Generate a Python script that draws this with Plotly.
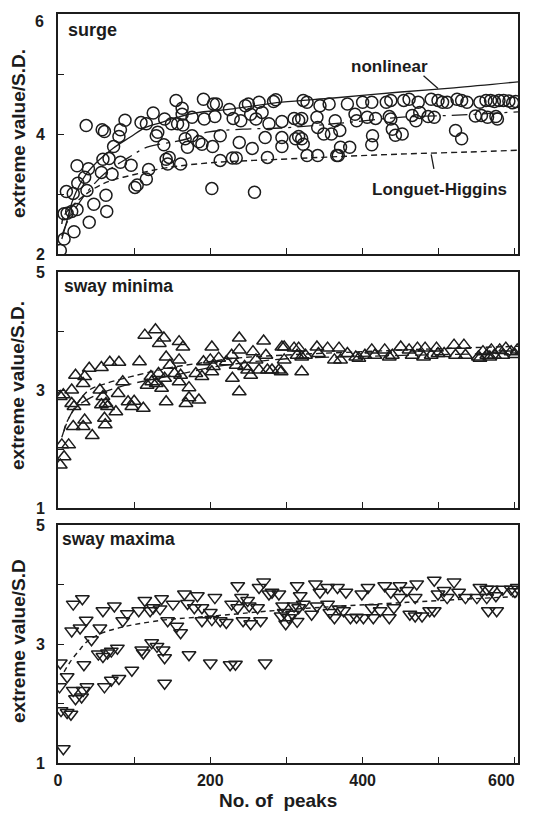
import plotly.graph_objects as go

# ---------------- data ----------------
surge_x = [3, 8, 21, 41, 64, 47, 63, 12, 18, 25, 8, 11, 20, 38, 26, 35, 25, 40, 37, 58,
           61, 57, 59, 67, 71, 73, 80, 82, 88, 82, 96, 101, 104, 116, 119, 109, 116, 125, 129, 131,
           139, 140, 142, 144, 146, 149, 155, 163, 163, 157, 164, 161, 167, 170, 176, 176, 185, 189, 191, 192,
           203, 204, 208, 206, 202, 213, 213, 225, 230, 229, 234, 238, 240, 246, 250, 253, 255, 258, 260, 264,
           272, 275, 277, 283, 286, 294, 294, 294, 268,
           310, 316, 320, 312, 316, 320, 322, 322, 327, 327, 341, 340, 341, 344, 356, 349, 359, 364, 370, 366,
           368, 371, 380, 383, 390, 392, 400, 412, 406, 417, 413, 412, 431, 437, 435, 437, 439, 443, 452, 454,
           461, 465, 470, 473, 475, 486, 494, 490, 499, 505, 511, 522, 530, 524, 530, 537, 554, 562, 568, 573,
           579, 585, 556, 564, 575, 577, 592, 597, 601, 548]
surge_y = [2.06, 2.25, 2.37, 2.53, 2.71, 2.83, 2.98, 2.68, 2.71, 2.74, 2.67, 3.04, 3.01, 3.06, 3.18, 3.28, 3.47, 3.42, 4.14, 4.07,
           4.04, 3.36, 3.58, 3.59, 3.33, 3.79, 3.96, 4.07, 4.23, 3.53, 3.48, 3.11, 3.15, 3.25, 3.41, 4.19, 4.17, 4.35, 3.97, 4.03,
           3.82, 4.25, 3.58, 3.50, 3.61, 4.17, 4.56, 4.43, 4.33, 4.17, 4.15, 3.50, 3.92, 3.78, 4.28, 3.97, 3.87, 3.83, 4.58, 4.25,
           3.79, 4.50, 4.50, 4.29, 3.09, 3.97, 3.56, 4.41, 4.26, 3.60, 3.60, 3.86, 4.22, 4.47, 4.50, 4.33, 3.76, 3.03, 4.25, 4.53,
           3.94, 3.61, 4.17, 4.54, 4.57, 4.21, 3.94, 3.79, 4.36,
           4.26, 4.23, 4.26, 3.92, 3.96, 3.92, 3.83, 4.56, 4.53, 3.64, 3.64, 4.28, 4.11, 4.47, 4.50, 4.00, 4.00, 4.22, 4.06, 3.64,
           3.64, 3.78, 4.50, 3.78, 4.33, 4.22, 4.53, 4.53, 4.28, 4.26, 3.97, 3.82, 4.53, 4.56, 4.29, 4.25, 4.08, 3.98, 4.00, 4.56,
           4.58, 4.31, 4.22, 4.53, 4.36, 4.29, 4.28, 4.58, 4.56, 4.53, 4.53, 4.06, 3.92, 4.58, 4.56, 4.53, 4.53, 4.56, 4.56, 4.54,
           4.56, 4.56, 4.31, 4.28, 4.29, 4.25, 4.55, 4.52, 4.54, 4.30]

nonlinear_x = [5, 10, 20, 37, 55, 72, 95, 115, 135, 157, 180, 230, 294, 362, 450, 520, 604]
nonlinear_y = [2.25, 2.47, 2.92, 3.33, 3.58, 3.76, 3.95, 4.11, 4.19, 4.28, 4.35, 4.42, 4.53, 4.60, 4.70, 4.77, 4.87]
middle_x = [5, 12, 25, 38, 63, 93, 117, 164, 196, 243, 294, 370, 452, 516, 604]
middle_y = [2.30, 2.53, 2.80, 3.03, 3.36, 3.61, 3.78, 3.90, 4.03, 4.08, 4.10, 4.18, 4.28, 4.31, 4.37]
lh_x = [5, 8, 29, 59, 102, 144, 200, 294, 380, 460, 540, 604]
lh_y = [2.50, 2.64, 2.92, 3.17, 3.33, 3.44, 3.52, 3.58, 3.63, 3.67, 3.70, 3.73]

swaymin_x = [3, 8, 5, 14, 3, 7, 18, 23, 35, 41, 57, 68, 80, 107, 18, 21, 33, 33, 55, 57,
             59, 63, 65, 76, 35, 33, 20, 45, 61, 62, 79, 85, 92, 100, 97, 112, 114, 128, 133, 139,
             132, 117, 122, 123, 129, 136, 140, 142, 142, 147, 159, 164, 159, 153, 159, 161, 172, 172, 168, 185,
             181, 189, 191, 202, 200, 204, 202, 211, 221, 228, 229, 238, 238, 238, 234, 245, 249, 253, 256, 260,
             264, 270, 273, 275, 281, 290, 294,
             297, 293, 320, 297, 310, 316, 314, 320, 325, 340, 342, 354, 363, 369, 371, 380, 391, 395, 403, 412,
             416, 429, 435, 439, 450, 461, 465, 472, 482, 480, 490, 497, 499, 507, 520, 522, 533, 535, 552, 558,
             563, 569, 573, 580, 584, 588, 567, 554, 595, 600, 603]
swaymin_y = [1.73, 1.87, 2.07, 2.07, 2.89, 2.92, 3.00, 3.25, 3.23, 3.37, 3.38, 3.47, 3.47, 3.48, 2.77, 2.72, 2.80, 3.11, 3.00, 2.75,
             2.89, 2.77, 2.72, 2.63, 2.49, 2.38, 2.38, 2.23, 2.52, 2.41, 2.94, 3.14, 2.80, 2.81, 2.72, 2.69, 3.93, 4.02, 3.79, 3.88,
             3.28, 3.08, 3.23, 3.14, 3.11, 3.03, 3.20, 2.80, 3.56, 3.42, 3.82, 3.73, 3.51, 3.28, 3.14, 3.25, 3.04, 2.87, 2.77, 2.83,
             3.28, 3.23, 3.48, 3.73, 3.51, 3.40, 3.31, 3.54, 3.48, 3.59, 3.20, 3.88, 3.68, 2.97, 3.42, 3.40, 3.34, 3.25, 3.65, 3.51,
             3.34, 3.83, 3.59, 3.34, 3.34, 3.34, 3.73,
             3.73, 3.31, 3.31, 3.51, 3.71, 3.71, 3.59, 3.56, 3.59, 3.73, 3.62, 3.71, 3.51, 3.71, 3.51, 3.62, 3.56, 3.54, 3.59, 3.68,
             3.59, 3.68, 3.56, 3.59, 3.73, 3.68, 3.59, 3.71, 3.71, 3.56, 3.59, 3.71, 3.62, 3.62, 3.76, 3.59, 3.76, 3.59, 3.56, 3.65,
             3.59, 3.68, 3.59, 3.68, 3.59, 3.71, 3.56, 3.54, 3.65, 3.60, 3.68]
min_dash_x = [8, 10, 38, 63, 97, 144, 183, 234, 294, 400, 500, 604]
min_dash_y = [2.30, 2.41, 2.97, 3.11, 3.23, 3.37, 3.45, 3.54, 3.59, 3.65, 3.70, 3.74]
min_long_x = [5, 20, 40, 80, 120, 160, 200, 250, 300, 400, 500, 604]
min_long_y = [2.20, 2.65, 2.85, 3.05, 3.17, 3.27, 3.38, 3.47, 3.53, 3.57, 3.60, 3.62]

swaymax_x = [7, 4, 12, 17, 2, 12, 20, 23, 31, 38, 33, 3, 34, 20, 32, 18, 29, 37, 55, 44,
             53, 59, 65, 70, 78, 61, 70, 80, 97, 59, 74, 85, 91, 106, 114, 121, 125, 136, 134, 110,
             112, 123, 130, 138, 140, 140, 144, 151, 156, 161, 166, 170, 183, 179, 189, 189, 172, 200, 200, 202,
             206, 213, 221, 228, 226, 233, 236, 236, 241, 243, 249, 251, 253, 262, 264, 266, 270, 277, 281, 290,
             293, 272,
             295, 297, 299, 303, 314, 318, 322, 310, 316, 308, 314, 333, 338, 344, 354, 367, 378, 340, 354, 357,
             363, 369, 375, 384, 392, 399, 407, 412, 401, 414, 423, 429, 437, 435, 441, 449, 449, 458, 462, 469,
             471, 469, 478, 488, 494, 494, 499, 507, 511, 520, 526, 535, 550, 554, 563, 569, 575, 584, 565, 576,
             563, 595, 600, 603]
swaymax_y = [1.24, 1.88, 1.85, 1.82, 2.28, 2.45, 2.22, 2.08, 2.11, 2.28, 2.22, 2.68, 2.65, 3.67, 3.76, 3.22, 3.27, 3.40, 3.27, 3.07,
             2.83, 2.79, 2.85, 2.88, 2.93, 2.28, 2.39, 2.42, 2.56, 3.56, 3.64, 3.39, 3.51, 3.56, 3.73, 3.56, 3.61, 3.76, 3.59, 2.90,
             2.85, 3.02, 2.96, 2.90, 2.77, 2.34, 3.39, 3.67, 3.30, 3.19, 3.84, 3.68, 3.81, 3.61, 3.61, 3.39, 2.82, 2.68, 3.53, 3.41,
             3.78, 3.39, 3.36, 3.67, 2.65, 2.66, 3.98, 3.61, 3.78, 3.39, 3.73, 3.64, 3.34, 3.61, 3.95, 3.39, 4.04, 3.84, 3.87, 3.84,
             3.47, 2.68,
             3.64, 3.53, 3.34, 3.44, 3.98, 3.81, 3.67, 3.64, 3.61, 3.50, 3.38, 3.50, 4.01, 3.87, 3.95, 3.95, 3.87, 3.64, 3.67, 3.53,
             3.44, 3.59, 3.56, 3.44, 3.45, 3.84, 3.95, 3.61, 3.44, 3.44, 3.56, 3.98, 3.87, 3.44, 3.61, 3.98, 3.78, 3.90, 3.50, 3.78,
             4.01, 3.47, 3.47, 3.56, 4.07, 3.56, 3.84, 3.90, 3.78, 4.04, 3.87, 3.78, 3.78, 3.95, 3.92, 3.92, 3.81, 3.92, 3.56, 3.56,
             3.78, 3.92, 3.88, 3.95]
max_dash_x = [8, 16, 27, 40, 59, 80, 106, 144, 183, 230, 273, 350, 430, 500, 604]
max_dash_y = [2.53, 2.70, 2.88, 3.06, 3.19, 3.27, 3.34, 3.41, 3.45, 3.50, 3.55, 3.62, 3.68, 3.73, 3.80]

x_ticks = [0, 100, 200, 300, 400, 500, 600]
x_ticktext = ["0", "", "200", "", "400", "", ""]   # "600" drawn separately, tucked inside like the reference
y1_ticks = [2, 3, 4, 5, 6]
y1_ticktext = ["2", "", "4", "", ""]               # "6" drawn separately, just below the top edge
y23_ticks = [1, 2, 3, 4, 5]
y23_ticktext = ["1", "", "3", "", "5"]

# ---------------- figure ----------------
INK = "#1c1c1c"
FONT = "Liberation Sans, Arial, sans-serif"
OFF = 8                      # page body margin of the html page
PAGE_W, PAGE_H = 535, 814
W, H = PAGE_W - OFF, PAGE_H - OFF
# plot area in page pixels: x 58..518, y 14..763
ML, MR, MT, MB = 58 - OFF, PAGE_W - 518, 14 - OFF, PAGE_H - 763
PW, PH = W - ML - MR, H - MT - MB


def py2paper(py):            # page pixel y -> paper fraction
    return (PAGE_H - MB - py) / PH


def px2paper(px):            # page pixel x -> paper fraction
    return (px - 58) / PW


fig = go.Figure()

mk = dict(color=INK, line=dict(color=INK, width=1.5))

fig.add_trace(go.Scatter(x=surge_x, y=surge_y, mode="markers", xaxis="x", yaxis="y",
                         marker=dict(symbol="circle-open", size=12, **mk), showlegend=False))
fig.add_trace(go.Scatter(x=nonlinear_x, y=nonlinear_y, mode="lines", xaxis="x", yaxis="y",
                         line=dict(color=INK, width=1.3, shape="spline"), showlegend=False))
fig.add_trace(go.Scatter(x=middle_x, y=middle_y, mode="lines", xaxis="x", yaxis="y",
                         line=dict(color=INK, width=1.3, shape="spline", dash="16px,6px,3px,6px"), showlegend=False))
fig.add_trace(go.Scatter(x=lh_x, y=lh_y, mode="lines", xaxis="x", yaxis="y",
                         line=dict(color=INK, width=1.4, shape="spline", dash="6px,4px"), showlegend=False))

fig.add_trace(go.Scatter(x=swaymin_x, y=swaymin_y, mode="markers", xaxis="x2", yaxis="y2",
                         marker=dict(symbol="triangle-up-open", size=12, **mk), showlegend=False))
fig.add_trace(go.Scatter(x=min_dash_x, y=min_dash_y, mode="lines", xaxis="x2", yaxis="y2",
                         line=dict(color=INK, width=1.4, shape="spline", dash="6px,4px"), showlegend=False))
fig.add_trace(go.Scatter(x=min_long_x, y=min_long_y, mode="lines", xaxis="x2", yaxis="y2",
                         line=dict(color=INK, width=1.3, shape="spline", dash="14px,6px"), showlegend=False))

fig.add_trace(go.Scatter(x=swaymax_x, y=swaymax_y, mode="markers", xaxis="x3", yaxis="y3",
                         marker=dict(symbol="triangle-down-open", size=12, **mk), showlegend=False))
fig.add_trace(go.Scatter(x=max_dash_x, y=max_dash_y, mode="lines", xaxis="x3", yaxis="y3",
                         line=dict(color=INK, width=1.4, shape="spline", dash="5px,4px"), showlegend=False))

tickfont = dict(family=FONT, size=16, color=INK, weight="bold")
common_x = dict(range=[0, 604], tickmode="array", tickvals=x_ticks, ticks="inside", ticklen=6,
                tickwidth=1.3, tickcolor=INK, showline=True, linecolor=INK, linewidth=1.6, mirror=True,
                showgrid=False, zeroline=False, tickfont=tickfont, ticklabelstandoff=2, automargin=False)
common_y = dict(tickmode="array", ticks="inside", ticklen=6, tickwidth=1.3, tickcolor=INK,
                showline=True, linecolor=INK, linewidth=1.6, mirror=True, showgrid=False,
                zeroline=False, tickfont=tickfont, ticklabelstandoff=8, automargin=False)

d1 = [py2paper(254), 1.0]
d2 = [py2paper(508), py2paper(272)]
d3 = [0.0, py2paper(525)]

fig.update_layout(
    template="none",
    width=W, height=H, autosize=False,
    margin=dict(l=ML, r=MR, t=MT, b=MB, autoexpand=False),
    paper_bgcolor="white", plot_bgcolor="white",
    font=dict(family=FONT, color=INK),
    xaxis=dict(domain=[0, 1], anchor="y", showticklabels=False, **common_x),
    xaxis2=dict(domain=[0, 1], anchor="y2", showticklabels=False, **common_x),
    xaxis3=dict(domain=[0, 1], anchor="y3", ticktext=x_ticktext, **common_x),
    yaxis=dict(domain=d1, anchor="x", range=[2, 6], tickvals=y1_ticks, ticktext=y1_ticktext, **common_y),
    yaxis2=dict(domain=d2, anchor="x2", range=[1, 5], tickvals=y23_ticks, ticktext=y23_ticktext, **common_y),
    yaxis3=dict(domain=d3, anchor="x3", range=[1, 5], tickvals=y23_ticks, ticktext=y23_ticktext, **common_y),
)

lab_s = dict(family=FONT, size=18, color=INK, weight="bold")
lab = dict(family=FONT, size=17.5, color=INK, weight="bold")
lab_c = dict(family=FONT, size=17, color=INK, weight="bold")
ttl = dict(family=FONT, size=19, color=INK, weight="bold")
ann = []
ann.append(dict(text="surge", xref="paper", yref="paper", x=px2paper(66), y=py2paper(30),
                xanchor="left", yanchor="middle", showarrow=False, font=lab_s))
ann.append(dict(text="sway minima", xref="paper", yref="paper", x=px2paper(62), y=py2paper(286),
                xanchor="left", yanchor="middle", showarrow=False, font=lab))
ann.append(dict(text="sway maxima", xref="paper", yref="paper", x=px2paper(60), y=py2paper(539),
                xanchor="left", yanchor="middle", showarrow=False, font=lab))
ann.append(dict(text="nonlinear", xref="paper", yref="paper", x=px2paper(389), y=py2paper(66),
                xanchor="center", yanchor="middle", showarrow=False, font=lab_c))
ann.append(dict(text="", x=499, y=4.76, xref="x", yref="y", showarrow=True, ax=-16, ay=-14,
                arrowhead=0, arrowwidth=1.3, arrowcolor=INK))
ann.append(dict(text="Longuet-Higgins", xref="paper", yref="paper", x=px2paper(439), y=py2paper(189),
                xanchor="center", yanchor="middle", showarrow=False, font=lab_c))
ann.append(dict(text="", x=490, y=3.66, xref="x", yref="y", showarrow=True, ax=3, ay=16,
                arrowhead=0, arrowwidth=1.3, arrowcolor=INK))
for txt, pyc in [("extreme value/S.D.", 134), ("extreme value/S.D.", 386), ("extreme value/S.D", 641)]:
    ann.append(dict(text=txt, xref="paper", yref="paper", x=px2paper(18), y=py2paper(pyc),
                    xanchor="center", yanchor="middle", textangle=-90, showarrow=False, font=ttl))
ann.append(dict(text="No. of  peaks", xref="paper", yref="paper", x=px2paper(278), y=py2paper(800),
                xanchor="center", yanchor="middle", showarrow=False, font=ttl))
ann.append(dict(text="600", xref="paper", yref="paper", x=px2paper(517), y=py2paper(780),
                xanchor="right", yanchor="middle", showarrow=False, font=tickfont))
ann.append(dict(text="6", xref="paper", yref="paper", x=px2paper(46), y=py2paper(21),
                xanchor="right", yanchor="middle", showarrow=False, font=tickfont))
fig.update_layout(annotations=ann)

fig.write_html("out.html")
